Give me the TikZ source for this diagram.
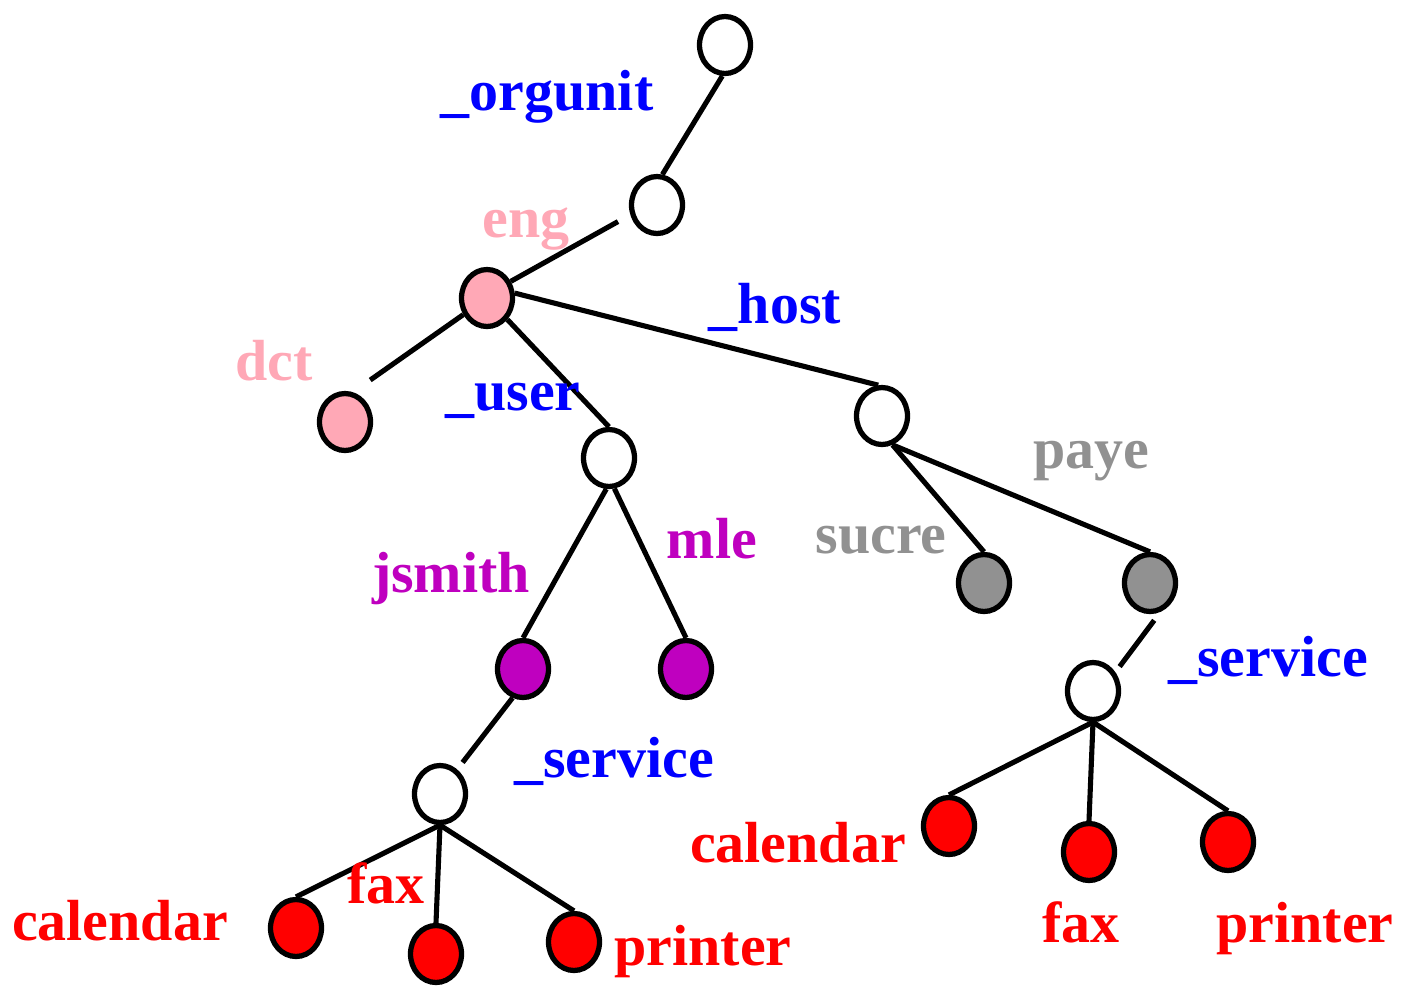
\documentclass[tikz,border=0pt]{standalone}
\usepackage{fontspec}
\setmainfont{Liberation Serif}
\usetikzlibrary{shapes.geometric}
\definecolor{AttrBlue}{RGB}{0,0,255}
\definecolor{EngPink}{RGB}{255,168,182}
\definecolor{HostGray}{RGB}{145,145,145}
\definecolor{UserPurple}{RGB}{191,0,191}
\definecolor{SvcRed}{RGB}{255,0,0}

\begin{document}
\begin{tikzpicture}[x=0.02cm, y=-0.02cm, line width=2.9pt,
    vertex/.style={draw, ellipse, line width=3pt, minimum width=1.02cm, minimum height=1.14cm, inner sep=0pt},
    lbl/.style={anchor=base, font=\fontsize{33}{40}\selectfont\bfseries}]
\useasboundingbox (0,0) rectangle (1406,988);

% tree nodes
\node[vertex] (root) at (725, 45) {};
\node[vertex] (org) at (657, 205) {};
\node[vertex, fill=EngPink] (eng) at (487, 298) {};
\node[vertex, fill=EngPink] (dct) at (345, 422) {};
\node[vertex] (user) at (609, 458) {};
\node[vertex] (host) at (882, 416) {};
\node[vertex, fill=UserPurple] (jsmith) at (523, 669) {};
\node[vertex, fill=UserPurple] (mle) at (686, 669) {};
\node[vertex, fill=HostGray] (sucre) at (984, 583) {};
\node[vertex, fill=HostGray] (paye) at (1150, 583) {};
\node[vertex] (svcA) at (440, 794) {};
\node[vertex] (svcB) at (1093, 691) {};
\node[vertex, fill=SvcRed] (calA) at (296, 928) {};
\node[vertex, fill=SvcRed] (faxA) at (436, 954) {};
\node[vertex, fill=SvcRed] (prnA) at (574, 942) {};
\node[vertex, fill=SvcRed] (calB) at (949, 826) {};
\node[vertex, fill=SvcRed] (faxB) at (1089, 852) {};
\node[vertex, fill=SvcRed] (prnB) at (1228, 842) {};

% edges
\foreach \a/\b in {root.265/org.80, eng/user.north, eng.10/host.97,
    host.290/sucre.north, host.290/paye.north, user.265/jsmith.north, user.280/mle.north,
    svcA.south/calA.north, svcA.south/faxA.north, svcA.south/prnA.north,
    svcB.south/calB.north, svcB.south/faxB.north, svcB.south/prnB.north}
{
    \draw (\a) -- (\b);
}
% edges left short of the upper node
\draw[shorten <=8pt] (org.200) -- (eng.35);
\draw[shorten >=12pt] (eng.215) -- (dct.75);
\draw[shorten >=5pt] (jsmith.250) -- (svcA.55);
\draw[shorten <=6pt, shorten >=4pt] (paye.290) -- (svcB.40);

% labels
\node[lbl, text=AttrBlue] (lorg) at (547, 110) {\_orgunit};
\node[lbl, text=EngPink] (leng) at (526, 237) {eng};
\node[lbl, text=AttrBlue] (lhost) at (775, 323) {\_host};
\node[lbl, text=EngPink] (ldct) at (274, 380) {dct};
\node[lbl, text=AttrBlue] (luser) at (513, 410) {\_user};
\node[lbl, text=HostGray] (lpaye) at (1091, 468) {paye};
\node[lbl, text=HostGray] (lsucre) at (881, 553) {sucre};
\node[lbl, text=UserPurple] (ljsmith) at (451, 592) {jsmith};
\node[lbl, text=UserPurple] (lmle) at (712, 558) {mle};
\node[lbl, text=AttrBlue] (lsvcA) at (614, 777) {\_service};
\node[lbl, text=AttrBlue] (lsvcB) at (1268, 676) {\_service};
\node[lbl, text=SvcRed] (lcalA) at (120, 940) {calendar};
\node[lbl, text=SvcRed] (lfaxA) at (386, 903) {fax};
\node[lbl, text=SvcRed] (lprnA) at (703, 965) {printer};
\node[lbl, text=SvcRed] (lcalB) at (798, 862) {calendar};
\node[lbl, text=SvcRed] (lfaxB) at (1081, 942) {fax};
\node[lbl, text=SvcRed] (lprnB) at (1305, 942) {printer};
\end{tikzpicture}
\end{document}
